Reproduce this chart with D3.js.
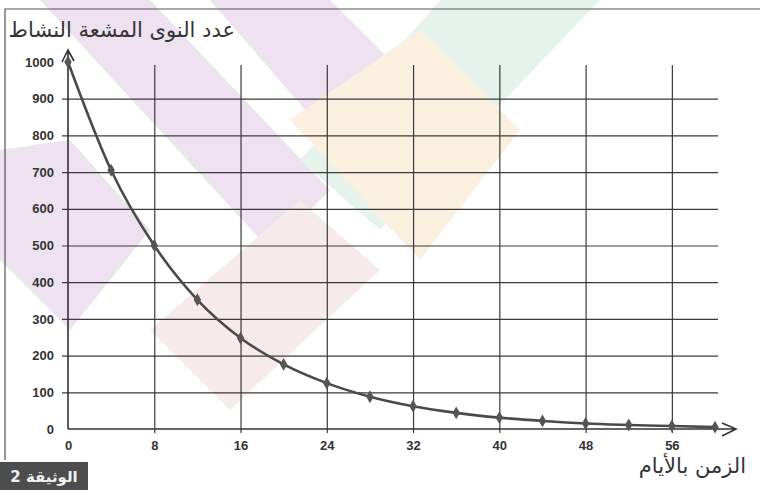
<!DOCTYPE html>
<html>
<head>
<meta charset="utf-8">
<script src="https://cdn.jsdelivr.net/npm/d3@7"></script>
<style>
  body { margin: 0; background: #fff; }
  text { font-family: "Liberation Sans", Arial, sans-serif; }
</style>
</head>
<body>
<div class="vis-decay"></div>
<script>
// time in days, number of active radioactive nuclei
const days = [0, 4, 8, 12, 16, 20, 24, 28, 32, 36, 40, 44, 48, 52, 56, 60];
const nuclei = [1000, 705, 500, 352, 248, 176, 125, 88, 62, 44, 31, 22, 15, 11, 8, 5];
const xTicks = [0, 8, 16, 24, 32, 40, 48, 56];
const yTicks = [0, 100, 200, 300, 400, 500, 600, 700, 800, 900, 1000];
const yTitle = 'عدد النوى المشعة النشاط';
const xTitle = 'الزمن بالأيام';
const docLabel = 'الوثيقة 2';

const W = 760, H = 490;
const svg = d3.select('.vis-decay').append('svg')
    .attr('width', W)
    .attr('height', H);

// faint scan watermark bands
const wm = svg.append('g').attr('opacity', 0.42);
const bands = [
    {c: '#d8b8dc', pts: [[40, 0], [150, 0], [330, 190], [270, 250]]},
    {c: '#d8b8dc', pts: [[210, 0], [330, 0], [420, 90], [340, 150]]},
    {c: '#d8b8dc', pts: [[0, 150], [70, 140], [150, 230], [70, 330], [0, 260]]},
    {c: '#c6e3d2', pts: [[440, 0], [600, 0], [380, 230], [300, 160]]},
    {c: '#f6dcb4', pts: [[290, 120], [420, 30], [520, 130], [420, 260]]},
    {c: '#eecfcf', pts: [[150, 330], [300, 200], [380, 270], [230, 410]]}
];
wm.selectAll('polygon')
    .data(bands)
    .enter().append('polygon')
    .attr('points', d => d.pts.map(p => p.join(',')).join(' '))
    .attr('fill', d => d.c);

// frame
svg.append('path')
    .attr('d', 'M5,460 L5,9 L760,9')
    .attr('fill', 'none')
    .attr('stroke', '#555')
    .attr('stroke-width', 1.2);

const x = d3.scaleLinear().domain([0, 60]).range([68, 715]);
const y = d3.scaleLinear().domain([0, 1000]).range([429, 62]);

// horizontal grid
svg.append('g')
    .attr('transform', 'translate(62,0)')
    .call(d3.axisLeft(y).tickValues(yTicks.filter(v => v > 0 && v < 1000)).tickSize(-656).tickFormat(''))
    .call(g => g.select('.domain').remove())
    .call(g => g.selectAll('line').attr('stroke', '#3a3a3a').attr('stroke-width', 1.2));

// vertical grid
svg.append('g')
    .attr('transform', 'translate(0,433)')
    .call(d3.axisBottom(x).tickValues(xTicks.filter(v => v > 0)).tickSize(-368).tickFormat(''))
    .call(g => g.select('.domain').remove())
    .call(g => g.selectAll('line').attr('stroke', '#3a3a3a').attr('stroke-width', 1.2));

// tick labels
svg.append('g')
    .attr('transform', 'translate(68,0)')
    .call(d3.axisLeft(y).tickValues(yTicks).tickSize(0).tickPadding(14).tickFormat(d3.format('d')))
    .call(g => g.select('.domain').remove())
    .call(g => g.selectAll('text')
        .attr('fill', '#333').style('font-size', '13px').style('font-weight', 'bold'));

svg.append('g')
    .attr('transform', 'translate(0,429)')
    .call(d3.axisBottom(x).tickValues(xTicks).tickSize(0).tickPadding(12))
    .call(g => g.select('.domain').remove())
    .call(g => g.selectAll('text')
        .attr('fill', '#333').style('font-size', '13px').style('font-weight', 'bold'));

// axes with arrows
svg.append('path')
    .attr('d', 'M' + x(0) + ',' + y(0) + ' L' + x(0) + ',50 M62,62 L' + x(0) + ',50 L74,61')
    .attr('fill', 'none').attr('stroke', '#333').attr('stroke-width', 1.6);
svg.append('path')
    .attr('d', 'M' + x(0) + ',' + y(0) + ' L736,' + y(0) + ' M722,423 L736,' + y(0) + ' L722,436')
    .attr('fill', 'none').attr('stroke', '#333').attr('stroke-width', 1.6);

// decay curve
const pts = days.map((d, i) => ({t: d, n: nuclei[i]}));
svg.append('path')
    .datum(pts)
    .attr('fill', 'none')
    .attr('stroke', '#4a4a4a')
    .attr('stroke-width', 2.6)
    .attr('d', d3.line()
        .x(d => x(d.t))
        .y(d => y(d.n))
        .curve(d3.curveMonotoneX));

svg.selectAll('.pt')
    .data(pts)
    .enter().append('path')
    .attr('class', 'pt')
    .attr('transform', d => 'translate(' + x(d.t) + ',' + y(d.n) + ')')
    .attr('d', d3.symbol().type(d3.symbolDiamond).size(48))
    .attr('fill', '#555');

// titles
svg.append('text')
    .attr('x', 235).attr('y', 37)
    .attr('text-anchor', 'end')
    .style('font-family', '"DejaVu Sans", sans-serif')
    .style('font-size', '21px')
    .attr('fill', '#333')
    .text(yTitle);

svg.append('text')
    .attr('x', 746).attr('y', 473)
    .attr('text-anchor', 'end')
    .style('font-family', '"DejaVu Sans", sans-serif')
    .style('font-size', '21px')
    .attr('fill', '#333')
    .text(xTitle);

svg.append('rect')
    .attr('x', 0).attr('y', 462)
    .attr('width', 88).attr('height', 28)
    .attr('fill', '#4d4d4d');
svg.append('text')
    .attr('x', 44).attr('y', 482)
    .attr('text-anchor', 'middle')
    .style('font-family', '"DejaVu Sans", sans-serif')
    .style('font-size', '15px')
    .style('font-weight', 'bold')
    .attr('fill', '#f2f2f2')
    .text(docLabel);
</script>
</body>
</html>
